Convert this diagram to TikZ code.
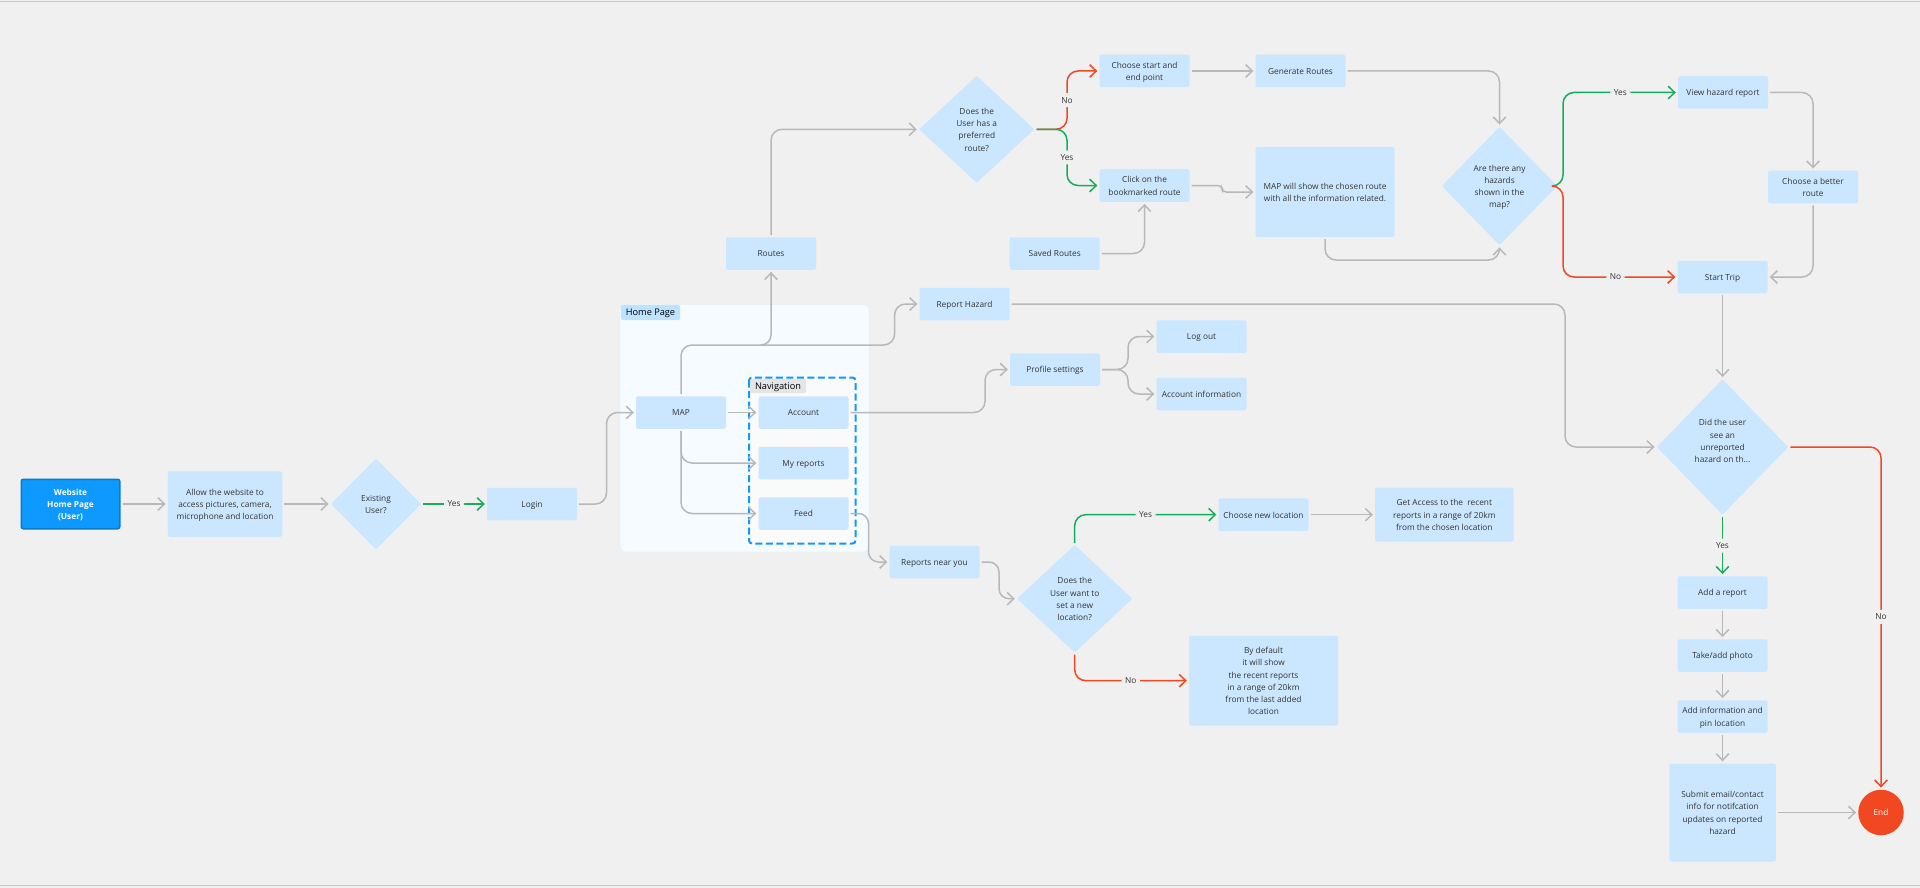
\documentclass[tikz,border=0pt]{standalone}
\usepackage{fontspec}
\setmainfont{Open Sans}
\usetikzlibrary{arrows.meta,shapes.geometric}
\definecolor{paper}{HTML}{F0F0F0}
\definecolor{boxblue}{HTML}{CBE7FF}
\definecolor{flowgray}{HTML}{B8B8B8}
\definecolor{yesgreen}{HTML}{14AE5C}
\definecolor{nored}{HTML}{F24822}
\definecolor{startblue}{HTML}{0D99FF}
\definecolor{panelblue}{HTML}{F5FBFF}
\definecolor{panelline}{HTML}{DDF1FF}
\definecolor{homeblue}{HTML}{BDE3FF}
\tikzset{
	box/.style={fill=boxblue,rounded corners=2pt,inner sep=0pt,text=black!80,font=\fontsize{8.3}{12.3}\selectfont},
	dec/.style={box,diamond,rounded corners=1pt,aspect=1},
	flow/.style={draw=flowgray,line width=1.5pt,rounded corners=11pt,-{Straight Barb[length=6.5pt,width=12.5pt,line width=1.5pt]},shorten <=2pt,shorten >=2pt},
	yes/.style={flow,draw=yesgreen},
	no/.style={flow,draw=nored},
	tag/.style={fill=paper,inner xsep=3.5pt,inner ysep=4pt,text=black!80,font=\fontsize{8.3}{11}\selectfont}
}
\newcommand{\stacktext}[1]{\raisebox{-1pt}[\height][\depth]{\begin{tabular}{@{}c@{}}#1\end{tabular}}}
\newcommand{\boxat}[5]{\node[box,minimum width=#3pt,minimum height=#4pt] (#1) at #2 {\stacktext{#5}};}
\newcommand{\decat}[5]{\node[dec,minimum width=#3pt,minimum height=#4pt] (#1) at #2 {\stacktext{#5}};}
\begin{document}
\begin{tikzpicture}[x=1pt,y=-1pt]
	\useasboundingbox (0,0) rectangle (1920,888);
	\fill[paper] (0,0) rectangle (1920,888);
	\draw[line width=1.2pt,black!22] (0,1.8) -- (1920,1.8);
	\draw[line width=1.2pt,black!22] (0,885.5) -- (1920,885.5);
	% home page and navigation panels
	\draw[fill=panelblue,draw=panelline,rounded corners=6pt] (620,304.5) rectangle (869,552);
	\node[box,fill=homeblue,minimum width=59pt,minimum height=15pt,text=black,font=\fontsize{9.2}{12}\selectfont] (homelabel) at (650.5,312.5) {\stacktext{Home Page}};
	\draw[fill=black!2,draw=startblue,line width=2pt,dash pattern=on 7pt off 3.5pt,rounded corners=3pt] (749,377.5) rectangle (855.5,543.5);
	\node[box,fill=black!10,minimum width=56pt,minimum height=14pt,text=black,font=\fontsize{9.2}{12}\selectfont] (navlabel) at (778,386) {\stacktext{Navigation}};
	% boxes
	\node[box,fill=startblue,draw=startblue!80!black,line width=1.5pt,text=white,minimum width=98.5pt,minimum height=49.5pt,font=\fontsize{8.3}{12.3}\selectfont\bfseries] (website) at (70.5,504) {\stacktext{Website\\Home Page\\(User)}};
	\boxat{allow}{(225,504)}{114.5}{65.5}{Allow the website to\\access pictures, camera,\\microphone and location}
	\decat{existing}{(376,504)}{90.5}{91}{Existing\\User?}
	\boxat{login}{(532,504)}{90}{32.5}{Login}
	\boxat{map}{(681,412.5)}{90}{32.5}{MAP}
	\boxat{account}{(803.5,412.5)}{90}{32.5}{Account}
	\boxat{reports}{(803.5,463)}{90}{32.5}{My reports}
	\boxat{feed}{(803.5,513.5)}{90}{32.5}{Feed}
	\boxat{routes}{(771,253.5)}{90}{32.5}{Routes}
	\boxat{hazard}{(964.5,304)}{90}{32.5}{Report Hazard}
	\boxat{profile}{(1055,369.5)}{90}{32.5}{Profile settings}
	\boxat{logout}{(1201.5,336.5)}{90}{32.5}{Log out}
	\boxat{info}{(1201.5,394)}{90}{32.5}{Account information}
	\boxat{near}{(934.5,562)}{90}{32.5}{Reports near you}
	\decat{preferred}{(976.7,129.3)}{115.5}{107}{Does the\\User has a\\preferred\\route?}
	\boxat{choose}{(1144.5,71)}{90}{32.5}{Choose start and\\end point}
	\boxat{generate}{(1300.5,71)}{90}{32.5}{Generate Routes}
	\boxat{bookmark}{(1144.5,185.5)}{90}{32.5}{Click on the\\bookmarked route}
	\boxat{saved}{(1054.7,253.5)}{90}{32.5}{Saved Routes}
	\boxat{chosen}{(1325,192)}{139}{90}{MAP will show the chosen route\\with all the information related.}
	\decat{hazards}{(1499.5,186)}{115.5}{118.5}{Are there any\\hazards\\shown in the\\map?}
	\boxat{view}{(1723,92.5)}{90}{32.5}{View hazard report}
	\boxat{better}{(1813,187)}{90}{32.5}{Choose a better\\route}
	\boxat{trip}{(1722.5,277)}{90}{32.5}{Start Trip}
	\decat{unreported}{(1722.5,447)}{131.5}{135.5}{Did the user\\see an\\unreported\\hazard on th...\\\ }
	\boxat{addreport}{(1722.5,592.5)}{90}{32.5}{Add a report}
	\boxat{photo}{(1722.5,655.5)}{90}{32.5}{Take/add photo}
	\boxat{pin}{(1722.5,716.5)}{90}{32.5}{Add information and\\pin location}
	\boxat{submit}{(1722.5,812.5)}{106.5}{98}{Submit email/contact\\info for notifcation\\updates on reported\\hazard}
	\node[circle,fill=nored,minimum size=45.5pt,inner sep=0pt,text=white,font=\fontsize{8.3}{12}\selectfont] (finish) at (1881,812.5) {\stacktext{End}};
	\decat{location}{(1074.7,598.7)}{115.5}{107.5}{Does the\\User want to\\set a new\\location?}
	\boxat{newloc}{(1263.5,514.7)}{90}{32.5}{Choose new location}
	\boxat{access}{(1444.3,514.7)}{138.5}{54}{Get Access to the\ \ recent\\reports in a range of 20km\\from the chosen location}
	\boxat{default}{(1263.5,680.7)}{149}{90}{By default\\it will show\\the recent reports\\in a range of 20km\\from the last added\\location}
	% free ends
	\coordinate (branch) at (760,345);
	\coordinate (fork) at (1067,129.3);
	\coordinate (hazfork) at (1563,186);
	\coordinate (proffork) at (1128,369.5);
	% connectors
	\draw[flow] (website) -- (allow);
	\draw[flow] (allow) -- (existing);
	\draw[yes] (existing) -- node[tag] (yeslogin) {Yes} (login);
	\draw[flow] (login.east) -- (606.5,504) -- (606.5,412.5) -- (map.west);
	\draw[flow] (map) -- (account);
	\draw[flow] (map.south) |- (reports.west);
	\draw[flow] (map.south) |- (feed.west);
	\draw[flow] (map.north) |- (894.6,345) |- (hazard.west);
	\draw[flow,rounded corners=10pt] (branch) -- (771,345) -- (routes.south);
	\draw[flow] (routes.north) |- (preferred.west);
	\draw[no] (preferred.east) -- (fork) -- node[tag] (nochoose) {No} (1067,71) -- (choose.west);
	\draw[yes] (preferred.east) -- (fork) -- node[tag] (yesclick) {Yes} (1067,185.5) -- (bookmark.west);
	\draw[flow] (choose) -- (generate);
	\draw[flow] (generate.east) -| (hazards.north);
	\draw[flow,rounded corners=4pt] (bookmark.east) -- (1222,185.5) -- (1222,192) -- (chosen.west);
	\draw[flow] (saved.east) -| (bookmark.south);
	\draw[flow] (chosen.south) |- (1499.5,260) -- (hazards.south);
	\draw[yes] (hazards.east) -- (hazfork) -- (1563,92.5) -- node[tag,pos=.5] (yesview) {Yes} (view.west);
	\draw[no] (hazards.east) -- (hazfork) -- (1563,277) -- node[tag,pos=.46] (notrip) {No} (trip.west);
	\draw[flow] (view.east) -| (better.north);
	\draw[flow] (better.south) |- (trip.east);
	\draw[flow] (trip) -- (unreported);
	\draw[flow] (hazard.east) -- (1565,304) -- (1565,447) -- (unreported.west);
	\draw[yes] (unreported) -- node[tag] (yesadd) {Yes} (addreport);
	\draw[no] (unreported.east) -| node[tag,pos=.748] (noend) {No} (finish.north);
	\draw[flow] (addreport) -- (photo);
	\draw[flow] (photo) -- (pin);
	\draw[flow] (pin) -- (submit);
	\draw[flow] (submit) -- (finish);
	\draw[flow] (account.east) -- (985,412.5) -- (985,369.5) -- (profile.west);
	\draw[flow] (profile.east) -- (proffork) -- (1128,336.5) -- (logout.west);
	\draw[flow] (profile.east) -- (proffork) -- (1128,394) -- (info.west);
	\draw[flow,rounded corners=10pt] (feed.east) -- (868.5,513.5) -- (868.5,562) -- (near.west);
	\draw[flow,rounded corners=10pt] (near.east) -- (999,562) -- (999,598.7) -- (location.west);
	\draw[yes] (location.north) |- node[tag,pos=.747] (yesnew) {Yes} (newloc.west);
	\draw[no] (location.south) |- node[tag,pos=.746] (nodefault) {No} (default.west);
	\draw[flow] (newloc) -- (access);
\end{tikzpicture}
\end{document}
